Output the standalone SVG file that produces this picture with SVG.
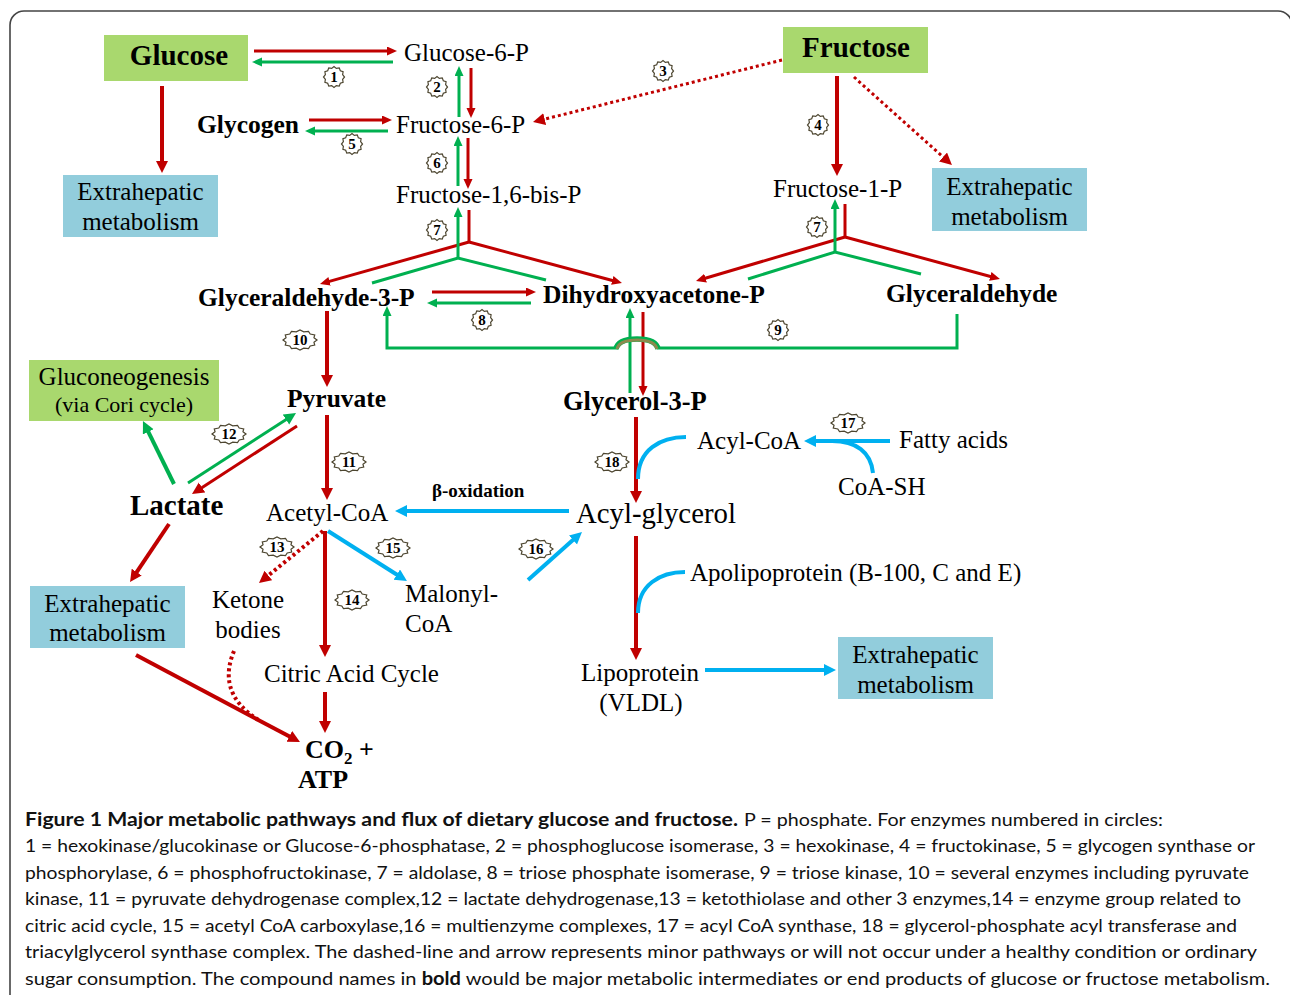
<svg xmlns="http://www.w3.org/2000/svg" xmlns:xlink="http://www.w3.org/1999/xlink" width="1290" height="995" viewBox="0 0 1290 995">
<style>
.n{font-family:"Liberation Serif","Times New Roman",serif;font-size:25px;fill:#000}
.b{font-weight:bold;font-size:25.5px}
.m{text-anchor:middle}
.cap{font-family:Lato,"Liberation Sans",sans-serif;font-size:18px;fill:#111}
.gbox{fill:#a9d86e}
.bbox{fill:#92cddc}
.r{stroke:#c00000;fill:none}
.g{stroke:#00b050;fill:none}
.bl{stroke:#00b0f0;fill:none}
.w4{stroke-width:4}
.w3{stroke-width:3}
.dot{stroke-dasharray:3 3}
.badge use{fill:#fff;stroke:#4d4630;stroke-width:1.2}
.badge text{font-family:"Liberation Serif","Times New Roman",serif;font-weight:bold;font-size:15px;text-anchor:middle;fill:#000}
</style>
<defs>
<marker id="rA" markerUnits="userSpaceOnUse" markerWidth="14" markerHeight="14" refX="4" refY="6" orient="auto"><path d="M0,0 L12,6 L0,12 z" fill="#c00000"/></marker>
<marker id="rS" markerUnits="userSpaceOnUse" markerWidth="12" markerHeight="10" refX="3" refY="4.5" orient="auto"><path d="M0,0 L10,4.5 L0,9 z" fill="#c00000"/></marker>
<marker id="gA" markerUnits="userSpaceOnUse" markerWidth="14" markerHeight="14" refX="4" refY="6" orient="auto"><path d="M0,0 L12,6 L0,12 z" fill="#00b050"/></marker>
<marker id="gS" markerUnits="userSpaceOnUse" markerWidth="12" markerHeight="10" refX="3" refY="4.5" orient="auto"><path d="M0,0 L10,4.5 L0,9 z" fill="#00b050"/></marker>
<marker id="bA" markerUnits="userSpaceOnUse" markerWidth="14" markerHeight="14" refX="4" refY="6" orient="auto"><path d="M0,0 L12,6 L0,12 z" fill="#00b0f0"/></marker>
<path id="star" vector-effect="non-scaling-stroke" d="M10,0 L8.21,2.2 L8.66,5 L6.01,6.01 L5,8.66 L2.2,8.21 L0,10 L-2.2,8.21 L-5,8.66 L-6.01,6.01 L-8.66,5 L-8.21,2.2 L-10,0 L-8.21,-2.2 L-8.66,-5 L-6.01,-6.01 L-5,-8.66 L-2.2,-8.21 L0,-10 L2.2,-8.21 L5,-8.66 L6.01,-6.01 L8.66,-5 L8.21,-2.2 z"/>
</defs>
<rect x="0" y="0" width="1290" height="995" fill="#fff"/>
<rect x="10" y="11" width="1282" height="1000" rx="14" fill="none" stroke="#444" stroke-width="1.6"/>

<g id="connectors">
<line class="r w4" x1="162" y1="86" x2="162" y2="165" marker-end="url(#rA)"/>
<line class="r w4" x1="837" y1="76" x2="837" y2="168" marker-end="url(#rA)"/>
<line class="r w4" x1="327" y1="311" x2="327" y2="379" marker-end="url(#rA)"/>
<line class="r w4" x1="327" y1="415" x2="327" y2="492" marker-end="url(#rA)"/>
<line class="r w4" x1="636" y1="417" x2="636" y2="495" marker-end="url(#rA)"/>
<line class="r w4" x1="636" y1="536" x2="636" y2="652" marker-end="url(#rA)"/>
<line class="r w4" x1="325" y1="531" x2="325" y2="649" marker-end="url(#rA)"/>
<line class="r w4" x1="325" y1="692" x2="325" y2="725" marker-end="url(#rA)"/>
<line class="r w4" x1="169" y1="524" x2="134.5" y2="575.4" marker-end="url(#rA)"/>
<line class="r w4" x1="136" y1="655" x2="292.9" y2="738.3" marker-end="url(#rA)"/>
<line class="r w3" x1="297" y1="426" x2="198.7" y2="489.7" marker-end="url(#rA)"/>

<line class="r w3" x1="254" y1="51" x2="390" y2="51" marker-end="url(#rS)"/>
<line class="r w3" x1="309" y1="120" x2="385" y2="120" marker-end="url(#rS)"/>
<line class="r w3" x1="471" y1="68" x2="471" y2="111" marker-end="url(#rS)"/>
<line class="r w3" x1="468" y1="138" x2="468" y2="182" marker-end="url(#rS)"/>
<line class="r w3" x1="432" y1="292" x2="529" y2="292" marker-end="url(#rS)"/>
<line class="r w3" x1="643" y1="312" x2="643" y2="389" marker-end="url(#rS)"/>
<line class="r w3" x1="469" y1="210" x2="469" y2="243"/>
<line class="r w3" x1="469" y1="242" x2="326.7" y2="282.1" marker-end="url(#rS)"/>
<line class="r w3" x1="469" y1="242" x2="615.2" y2="281.2" marker-end="url(#rS)"/>
<line class="r w3" x1="845" y1="204" x2="845" y2="238"/>
<line class="r w3" x1="845" y1="237" x2="702.7" y2="279" marker-end="url(#rS)"/>
<line class="r w3" x1="845" y1="237" x2="993.2" y2="277.2" marker-end="url(#rS)"/>

<line class="g w3" x1="393" y1="62" x2="259" y2="62" marker-end="url(#gS)"/>
<line class="g w3" x1="388" y1="131" x2="312" y2="131" marker-end="url(#gS)"/>
<line class="g w3" x1="459" y1="117" x2="459" y2="73" marker-end="url(#gS)"/>
<line class="g w3" x1="458" y1="186" x2="458" y2="143" marker-end="url(#gS)"/>
<line class="g w3" x1="458" y1="258" x2="458" y2="214" marker-end="url(#gS)"/>
<polyline class="g w3" points="372,283 458,258 546,280"/>
<line class="g w3" x1="531" y1="303" x2="434" y2="303" marker-end="url(#gS)"/>
<line class="g w3" x1="630" y1="393" x2="630" y2="315" marker-end="url(#gS)"/>
<line class="g w3" x1="835" y1="252" x2="835" y2="206" marker-end="url(#gS)"/>
<polyline class="g w3" points="748,279 835,252 921,274"/>
<path class="g w3" d="M957,314 L957,348 L657,348 M618,348 L387,348 L387,313" marker-end="url(#gS)"/>
<path d="M616,349 Q618,339 637,339 Q656,339 658,349" fill="none" stroke="#00b050" stroke-width="5.5"/>
<path d="M617,349 Q619,340 637,340 Q655,340 657,349" fill="none" stroke="#8c8a4e" stroke-width="3"/>
<line class="g w4" x1="174" y1="484" x2="146.5" y2="428.2" marker-end="url(#gA)"/>
<line class="g w3" x1="188" y1="483" x2="289.3" y2="417.4" marker-end="url(#gA)"/>

<line class="bl w4" x1="890" y1="441" x2="812" y2="441" marker-end="url(#bA)"/>
<line class="bl w4" x1="569" y1="511" x2="403" y2="511" marker-end="url(#bA)"/>
<line class="bl w4" x1="328" y1="531" x2="400.2" y2="576.7" marker-end="url(#bA)"/>
<line class="bl w4" x1="528" y1="580" x2="576" y2="537.3" marker-end="url(#bA)"/>
<line class="bl w4" x1="705" y1="670" x2="828" y2="670" marker-end="url(#bA)"/>
<path class="bl w4" d="M686,437 C660,437 638,450 638,479"/>
<path class="bl w4" d="M873,473 C871,452 856,441 832,441"/>
<path class="bl w4" d="M685,572 C660,572 638,585 638,613"/>

<line class="r w3 dot" x1="782" y1="60" x2="540.8" y2="120.1" marker-end="url(#rA)"/>
<line class="r w3 dot" x1="854" y1="77" x2="946" y2="159.7" marker-end="url(#rA)"/>
<line class="r w4 dot" x1="323" y1="531" x2="265.2" y2="578" marker-end="url(#rA)"/>
<path class="r w4 dot" d="M234,651 C224,675 226,700 260,721"/>
</g>

<g id="enzymes" class="badge">
<g><use href="#star" transform="translate(334,77) scale(1.05)"/><text x="334" y="82">1</text></g>
<g><use href="#star" transform="translate(437,87) scale(1.05)"/><text x="437" y="92">2</text></g>
<g><use href="#star" transform="translate(663,71) scale(1.05)"/><text x="663" y="76">3</text></g>
<g><use href="#star" transform="translate(818,125) scale(1.05)"/><text x="818" y="130">4</text></g>
<g><use href="#star" transform="translate(352,144) scale(1.05)"/><text x="352" y="149">5</text></g>
<g><use href="#star" transform="translate(437,163) scale(1.05)"/><text x="437" y="168">6</text></g>
<g><use href="#star" transform="translate(437,230) scale(1.05)"/><text x="437" y="235">7</text></g>
<g><use href="#star" transform="translate(817,227) scale(1.05)"/><text x="817" y="232">7</text></g>
<g><use href="#star" transform="translate(482,320) scale(1.05)"/><text x="482" y="325">8</text></g>
<g><use href="#star" transform="translate(778,330) scale(1.05)"/><text x="778" y="335">9</text></g>
<g><use href="#star" transform="translate(300,340) scale(1.7,1)"/><text x="300" y="345">10</text></g>
<g><use href="#star" transform="translate(349,462) scale(1.7,1)"/><text x="349" y="467">11</text></g>
<g><use href="#star" transform="translate(229,434) scale(1.7,1)"/><text x="229" y="439">12</text></g>
<g><use href="#star" transform="translate(277,547) scale(1.7,1)"/><text x="277" y="552">13</text></g>
<g><use href="#star" transform="translate(352,600) scale(1.7,1)"/><text x="352" y="605">14</text></g>
<g><use href="#star" transform="translate(393,548) scale(1.7,1)"/><text x="393" y="553">15</text></g>
<g><use href="#star" transform="translate(536,549) scale(1.7,1)"/><text x="536" y="554">16</text></g>
<g><use href="#star" transform="translate(848,423) scale(1.7,1)"/><text x="848" y="428">17</text></g>
<g><use href="#star" transform="translate(612,462) scale(1.7,1)"/><text x="612" y="467">18</text></g>
</g>

<g id="glucose"><rect class="gbox" x="104" y="35" width="144" height="46"/><text class="n b m" x="179" y="65" style="font-size:29px">Glucose</text></g>
<g id="fructose"><rect class="gbox" x="783" y="27" width="145" height="46"/><text class="n b m" x="856" y="57" style="font-size:29px">Fructose</text></g>
<g id="glucose6p"><text class="n" x="404" y="61">Glucose-6-P</text></g>
<g id="glycogen"><text class="n b" x="197" y="133">Glycogen</text></g>
<g id="fructose6p"><text class="n" x="396" y="133">Fructose-6-P</text></g>
<g id="fructose16bp"><text class="n" x="396" y="203">Fructose-1,6-bis-P</text></g>
<g id="extra-tl"><rect class="bbox" x="63" y="175" width="155" height="62"/><text class="n m" x="140.5" y="200">Extrahepatic</text><text class="n m" x="140.5" y="230">metabolism</text></g>
<g id="fructose1p"><text class="n" x="773" y="197">Fructose-1-P</text></g>
<g id="extra-tr"><rect class="bbox" x="932" y="168" width="155" height="63"/><text class="n m" x="1009.5" y="195">Extrahepatic</text><text class="n m" x="1009.5" y="225">metabolism</text></g>
<g id="g3p"><text class="n b" x="198" y="306">Glyceraldehyde-3-P</text></g>
<g id="dhap"><text class="n b" x="543" y="303">Dihydroxyacetone-P</text></g>
<g id="glyceraldehyde"><text class="n b" x="886" y="302">Glyceraldehyde</text></g>
<g id="pyruvate"><text class="n b" x="287" y="407">Pyruvate</text></g>
<g id="glycerol3p"><text class="n b" x="563" y="410" style="font-size:26.5px">Glycerol-3-P</text></g>
<g id="gluconeogenesis"><rect class="gbox" x="29" y="360" width="190" height="61"/><text class="n m" x="124" y="385">Gluconeogenesis</text><text class="n m" x="124" y="412" style="font-size:22px">(via Cori cycle)</text></g>
<g id="lactate"><text class="n b" x="130" y="515" style="font-size:29px">Lactate</text></g>
<g id="acetylcoa"><text class="n" x="266" y="521">Acetyl-CoA</text></g>
<g id="beta-ox"><text class="n b" x="432" y="497" style="font-size:19px">β-oxidation</text></g>
<g id="acylglycerol"><text class="n" x="576" y="523" style="font-size:28.8px">Acyl-glycerol</text></g>
<g id="acylcoa"><text class="n" x="697" y="449">Acyl-CoA</text></g>
<g id="fattyacids"><text class="n" x="899" y="448">Fatty acids</text></g>
<g id="coash"><text class="n" x="838" y="495">CoA-SH</text></g>
<g id="extra-l"><rect class="bbox" x="30" y="586" width="155" height="62"/><text class="n m" x="107.5" y="612">Extrahepatic</text><text class="n m" x="107.5" y="641">metabolism</text></g>
<g id="ketone"><text class="n m" x="248" y="608">Ketone</text><text class="n m" x="248" y="638">bodies</text></g>
<g id="malonyl"><text class="n" x="405" y="602">Malonyl-</text><text class="n" x="405" y="632">CoA</text></g>
<g id="citric"><text class="n" x="264" y="682">Citric Acid Cycle</text></g>
<g id="co2atp"><text class="n b" x="305" y="758" style="font-size:26px">CO<tspan dy="6" style="font-size:17px">2</tspan><tspan dy="-6"> +</tspan></text><text class="n b" x="298" y="788" style="font-size:26px">ATP</text></g>
<g id="apolipo"><text class="n" x="690" y="581">Apolipoprotein (B-100, C and E)</text></g>
<g id="lipoprotein"><text class="n" x="581" y="681">Lipoprotein</text><text class="n m" x="641" y="711">(VLDL)</text></g>
<g id="extra-br"><rect class="bbox" x="838" y="637" width="155" height="62"/><text class="n m" x="915.5" y="663">Extrahepatic</text><text class="n m" x="915.5" y="693">metabolism</text></g>

<g id="caption">
<text class="cap" x="25" y="826" font-weight="bold" textLength="713" lengthAdjust="spacingAndGlyphs">Figure 1 Major metabolic pathways and flux of dietary glucose and fructose.</text>
<text class="cap" x="744" y="826" textLength="419" lengthAdjust="spacingAndGlyphs">P = phosphate. For enzymes numbered in circles:</text>
<text class="cap" x="25" y="852" textLength="1230" lengthAdjust="spacingAndGlyphs">1 = hexokinase/glucokinase or Glucose-6-phosphatase, 2 = phosphoglucose isomerase, 3 = hexokinase, 4 = fructokinase, 5 = glycogen synthase or</text>
<text class="cap" x="25" y="879" textLength="1224" lengthAdjust="spacingAndGlyphs">phosphorylase, 6 = phosphofructokinase, 7 = aldolase, 8 = triose phosphate isomerase, 9 = triose kinase, 10 = several enzymes including pyruvate</text>
<text class="cap" x="25" y="905" textLength="1216" lengthAdjust="spacingAndGlyphs">kinase, 11 = pyruvate dehydrogenase complex,12 = lactate dehydrogenase,13 = ketothiolase and other 3 enzymes,14 = enzyme group related to</text>
<text class="cap" x="25" y="932" textLength="1212" lengthAdjust="spacingAndGlyphs">citric acid cycle, 15 = acetyl CoA carboxylase,16 = multienzyme complexes, 17 = acyl CoA synthase, 18 = glycerol-phosphate acyl transferase and</text>
<text class="cap" x="25" y="958" textLength="1232" lengthAdjust="spacingAndGlyphs">triacylglycerol synthase complex. The dashed-line and arrow represents minor pathways or will not occur under a healthy condition or ordinary</text>
<text class="cap" x="25" y="985" textLength="1245" lengthAdjust="spacingAndGlyphs">sugar consumption. The compound names in <tspan font-weight="bold">bold</tspan> would be major metabolic intermediates or end products of glucose or fructose metabolism.</text>
</g>
</svg>
